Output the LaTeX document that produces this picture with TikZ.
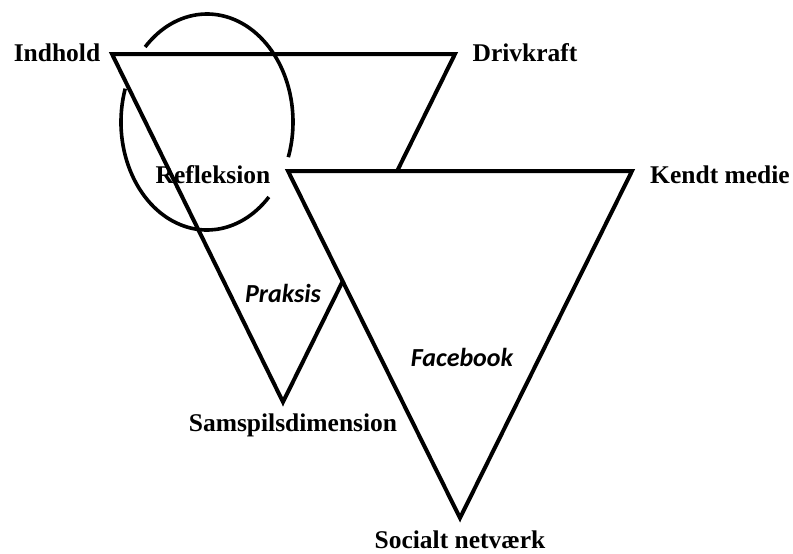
\documentclass[tikz,border=0pt]{standalone}
\usepackage{fontspec}
\setmainfont{Liberation Serif}
\newfontfamily\calib{Carlito}
\begin{document}
\begin{tikzpicture}[x=1pt,y=-1pt,
  lbl/.style={anchor=base,inner sep=0pt,font=\fontsize{25.5}{30}\selectfont\bfseries},
  ital/.style={anchor=base,inner sep=0pt,font=\calib\fontsize{26}{30}\selectfont\bfseries\itshape},
  tri/.style={line width=4pt,line join=miter},
  ell/.style={line width=3.6pt}]
\useasboundingbox (0,0) rectangle (793,554);
% vertices
\coordinate (A) at (112,54);
\coordinate (B) at (455,54);
\coordinate (C) at (283,402);
\coordinate (D) at (288,171);
\coordinate (E) at (632,171);
\coordinate (F) at (460,518);
\coordinate (ec) at (207,122);
% upper triangle
\draw[tri] (A) -- (B) -- (C) -- cycle;
% lower triangle, covering part of the first
\draw[tri,fill=white] (D) -- (E) -- (F) -- cycle;
% ellipse arcs
\draw[ell] ([shift={(-162:86 and 108)}]ec) arc[start angle=-162,end angle=-316,x radius=86,y radius=108];
\draw[ell] ([shift={(-136:86 and 108)}]ec) arc[start angle=-136,end angle=19,x radius=86,y radius=108];
% labels
\node[lbl] (indhold) at (57,61) {Indhold};
\node[lbl] (drivkraft) at (525,61) {Drivkraft};
\node[lbl] (refleksion) at (213,183) {Refleksion};
\node[lbl] (kendt) at (720,183) {Kendt medie};
\node[lbl] (samspil) at (293,431) {Samspilsdimension};
\node[lbl] (socialt) at (460,548) {Socialt netværk};
\node[ital] (praksis) at (283,302) {Praksis};
\node[ital] (facebook) at (462,366) {Facebook};
\end{tikzpicture}
\end{document}
